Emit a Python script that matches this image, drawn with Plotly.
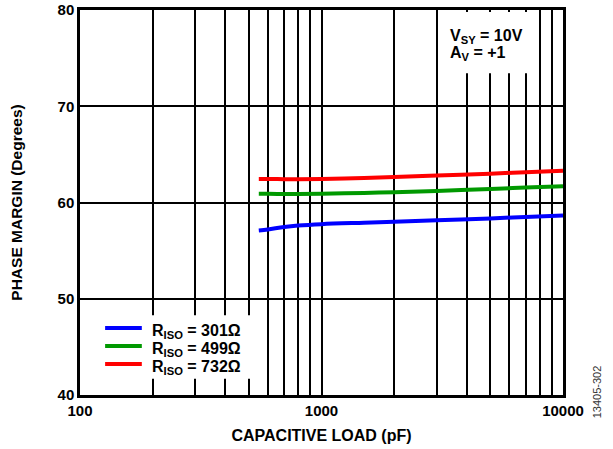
import plotly.graph_objects as go

FONT = "Liberation Sans, Arial, sans-serif"

# capacitive load (pF) and phase margin (degrees)
cap_load = [550, 600, 700, 800, 1000, 1500, 2000, 3000, 5000, 7000, 10000]
pm_301 = [57.1, 57.2, 57.45, 57.6, 57.75, 57.9, 58.0, 58.15, 58.35, 58.5, 58.65]
pm_499 = [60.9, 60.9, 60.88, 60.88, 60.9, 61.0, 61.07, 61.2, 61.4, 61.55, 61.7]
pm_732 = [62.45, 62.45, 62.42, 62.42, 62.45, 62.55, 62.65, 62.8, 63.0, 63.15, 63.3]

series = [
    ("R<sub>ISO</sub> = 301Ω", pm_301, "#0000FF"),
    ("R<sub>ISO</sub> = 499Ω", pm_499, "#009900"),
    ("R<sub>ISO</sub> = 732Ω", pm_732, "#FF0000"),
]
conditions = ["V<sub>SY</sub> = 10V", "A<sub>V</sub> = +1"]

x_grid = [m * 10 ** e for e in (2, 3) for m in range(1, 10)] + [10000]
x_labels = [str(v) if v in (100, 1000, 10000) else "" for v in x_grid]
y_ticks = [40, 50, 60, 70, 80]

fig = go.Figure()
for name, vals, color in series:
    fig.add_trace(go.Scatter(
        x=cap_load, y=vals, name=name, mode="lines",
        line=dict(color=color, width=4, shape="spline"),
    ))

fig.update_layout(
    width=613, height=449,
    paper_bgcolor="white", plot_bgcolor="white",
    margin=dict(l=80, r=50, t=10, b=54, autoexpand=False),
    font=dict(family=FONT, color="black", size=16),
    showlegend=False,
    xaxis=dict(
        type="log", range=[2, 4], automargin=False,
        tickvals=x_grid, ticktext=x_labels,
        showgrid=True, gridcolor="black", gridwidth=1.6,
        showline=True, linecolor="black", linewidth=2.5, mirror=True,
        ticks="", zeroline=False,
        tickfont=dict(family=FONT, size=15, color="black", weight="bold"),
        title=dict(text="<b>CAPACITIVE LOAD (pF)</b>", font=dict(size=16), standoff=13),
    ),
    yaxis=dict(
        range=[40, 80], tickvals=y_ticks, automargin=False,
        showgrid=True, gridcolor="black", gridwidth=1.6,
        showline=True, linecolor="black", linewidth=2.5, mirror=True,
        ticks="", zeroline=False,
        tickfont=dict(family=FONT, size=15, color="black", weight="bold"),
        title=dict(text="<b>PHASE MARGIN (Degrees)</b>", font=dict(size=15.5), standoff=32),
    ),
)

# white boxes that mask the grid behind the legend and the conditions note
box = dict(type="rect", xref="paper", yref="paper", layer="above",
           fillcolor="white", line=dict(width=0))
fig.add_shape(x0=0.01, x1=0.365, y0=0.042, y1=0.207, **box)
fig.add_shape(x0=0.745, x1=0.93, y0=0.836, y1=0.995, **box)

# legend drawn by hand so the rows sit as tightly as in the original
row_y = [0.174, 0.127, 0.0805]
for (name, _, color), ry in zip(series, row_y):
    fig.add_shape(type="line", xref="paper", yref="paper", layer="above",
                  x0=0.052, x1=0.128, y0=ry, y1=ry,
                  line=dict(color=color, width=4))
    fig.add_annotation(
        xref="paper", yref="paper", x=0.145, y=ry - 0.008,
        xanchor="left", yanchor="middle", showarrow=False,
        text=f"<b>{name}</b>", font=dict(family=FONT, size=16, color="black"),
    )

for txt, ty in zip(conditions, [0.93, 0.886]):
    fig.add_annotation(
        xref="paper", yref="paper", x=0.762, y=ty,
        xanchor="left", yanchor="middle", showarrow=False,
        text=f"<b>{txt}</b>", font=dict(family=FONT, size=16, color="black"),
    )

fig.add_annotation(
    xref="paper", yref="paper", x=1.07, y=-0.065, xanchor="center", yanchor="bottom",
    text="13405-302", textangle=-90, showarrow=False,
    font=dict(family=FONT, size=11, color="#333333"),
)

fig.write_html("out.html", config={"displayModeBar": False},
               post_script="document.body.style.margin='0';")
